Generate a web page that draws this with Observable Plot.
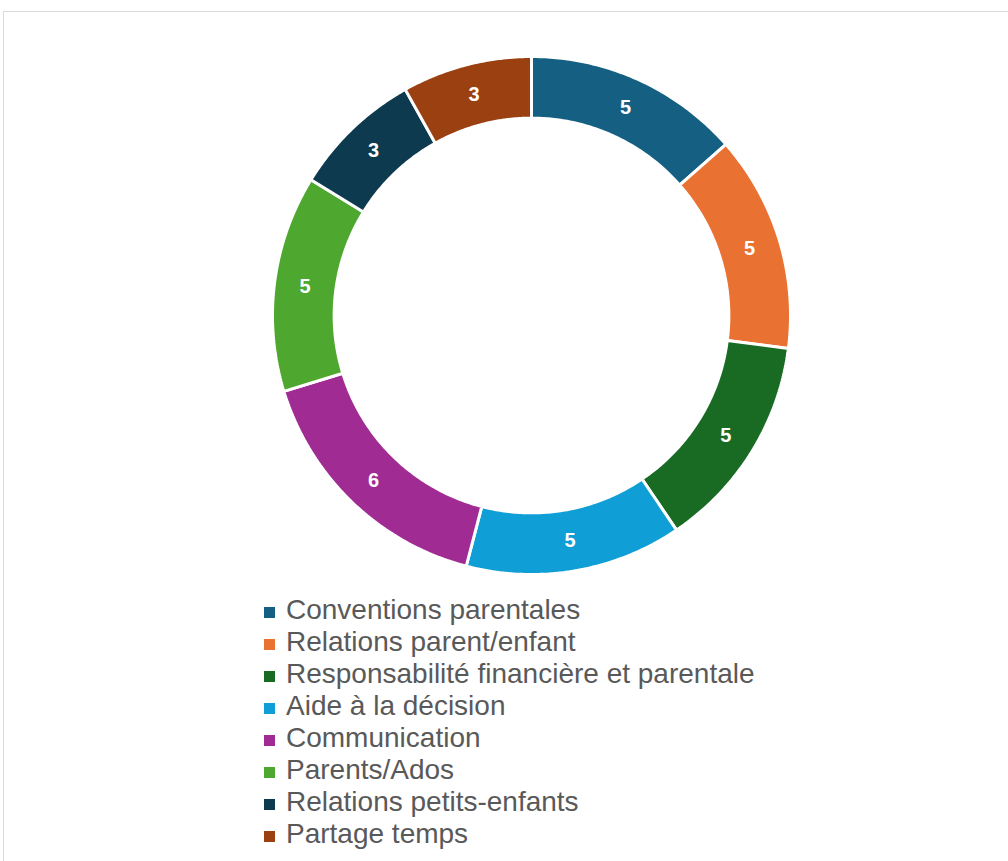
<!DOCTYPE html>
<html>
<head>
<meta charset="utf-8">
<script src="https://cdn.jsdelivr.net/npm/d3@7"></script>
<script src="https://cdn.jsdelivr.net/npm/@observablehq/plot@0.6"></script>
<style>
  html, body { margin: 0; padding: 0; background: #fff; overflow: hidden; width: 1008px; height: 861px; }
  #frame { position: absolute; left: 3px; top: 11px; width: 1100px; height: 1000px; border: 1px solid #d9d9d9; pointer-events: none; }
  #chart { position: absolute; left: 0; top: 0; }
  #legend { position: absolute; left: 264px; top: 596px; font-family: "Liberation Sans", Arial, sans-serif; font-size: 28px; color: #595959; }
  .row { height: 32px; display: flex; align-items: center; white-space: nowrap; }
  .sw { width: 11px; height: 11px; margin-right: 11px; flex: none; }
  .tx { position: relative; top: -2px; line-height: 1; }
</style>
</head>
<body>
<div id="frame"></div>
<div id="chart"></div>
<div id="legend"></div>
<script>
const categories = [
  "Conventions parentales",
  "Relations parent/enfant",
  "Responsabilité financière et parentale",
  "Aide à la décision",
  "Communication",
  "Parents/Ados",
  "Relations petits-enfants",
  "Partage temps"
];
const values = [5, 5, 5, 5, 6, 5, 3, 3];
const colors = ["#156082", "#E97132", "#196B24", "#0F9ED5", "#A02B93", "#4EA72E", "#0D3A4E", "#9A4011"];

const outerR = 1.0, innerR = 0.762;
const data = categories.map((c, i) => ({category: c, value: values[i]}));
const arcs = d3.pie().value(d => d.value).sort(null).startAngle(0).endAngle(2 * Math.PI)(data);

// polygon vertices for each ring segment, derived from pie angles
const pts = [];
const labels = [];
for (const a of arcs) {
  const n = 80;
  for (let k = 0; k <= n; k++) {
    const t = a.startAngle + (a.endAngle - a.startAngle) * k / n;
    pts.push({category: a.data.category, x: outerR * Math.sin(t), y: outerR * Math.cos(t)});
  }
  for (let k = n; k >= 0; k--) {
    const t = a.startAngle + (a.endAngle - a.startAngle) * k / n;
    pts.push({category: a.data.category, x: innerR * Math.sin(t), y: innerR * Math.cos(t)});
  }
  const m = (a.startAngle + a.endAngle) / 2, rm = (outerR + innerR) / 2;
  labels.push({category: a.data.category, value: a.data.value, x: rm * Math.sin(m), y: rm * Math.cos(m)});
}

const cx = 531, cy = 315, R = 259;
const plot = Plot.plot({
  width: 1008,
  height: 592,
  margin: 0,
  x: {domain: [-1, 1], range: [cx - R, cx + R], axis: null},
  y: {domain: [-1, 1], range: [cy + R, cy - R], axis: null},
  color: {domain: categories, range: colors},
  marks: [
    Plot.line(pts, {x: "x", y: "y", z: "category", fill: "category", stroke: "white", strokeWidth: 3, curve: "linear-closed", strokeLinejoin: "miter"}),
    Plot.text(labels, {x: "x", y: "y", text: d => String(d.value), fill: "white", fontSize: 20, fontWeight: "bold", fontFamily: "Liberation Sans, Arial, sans-serif"})
  ]
});
document.getElementById("chart").appendChild(plot);

const legend = document.getElementById("legend");
categories.forEach((c, i) => {
  const row = document.createElement("div");
  row.className = "row";
  const sw = document.createElement("span");
  sw.className = "sw";
  sw.style.background = colors[i];
  const tx = document.createElement("span");
  tx.className = "tx";
  tx.textContent = c;
  row.appendChild(sw);
  row.appendChild(tx);
  legend.appendChild(row);
});
</script>
</body>
</html>
